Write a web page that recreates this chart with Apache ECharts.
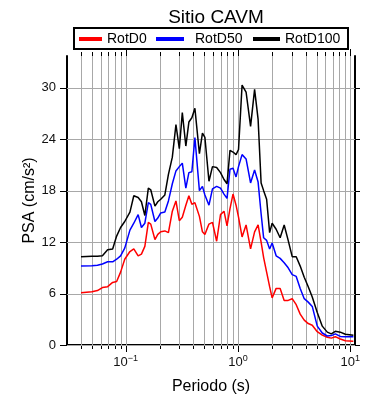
<!DOCTYPE html>
<html><head><meta charset="utf-8">
<script src="https://cdn.jsdelivr.net/npm/echarts@6/dist/echarts.min.js"></script>
<style>html,body{margin:0;padding:0;background:#fff}#c{width:390px;height:400px}</style>
</head><body><div id="c"></div>
<script>
const periods = [0.04,0.05,0.056,0.062,0.069,0.0765,0.083,0.09,0.098,0.109,
  0.118,0.129,0.138,0.148,0.159,0.167,0.182,0.193,0.205,0.223,
  0.24,0.26,0.28,0.3,0.319,0.343,0.365,0.388,0.413,0.453,
  0.482,0.507,0.551,0.592,0.645,0.698,0.75,0.798,0.848,0.902,
  0.96,1.01,1.086,1.179,1.293,1.404,1.509,1.605,1.69,1.797,
  1.911,2.012,2.184,2.371,2.575,2.795,3.035,3.296,3.577,3.885,
  4.217,4.579,5.075,5.623,6.232,6.767,7.347,8.142,9.024,10.64];
const rotD100 = [10.3,10.35,10.35,10.4,11.1,11.2,12.7,13.7,14.4,15.5,
  17.4,17.2,16.7,15.1,18.3,18.1,16.2,16.7,17.0,17.5,
  19.9,21.9,25.7,22.9,27.1,23.2,26.0,26.5,27.6,22.3,
  24.7,24.2,19.1,20.8,20.7,20.1,19.3,18.8,22.7,22.5,
  22.2,22.8,30.3,29.5,25.5,29.8,26.3,18.9,18.0,17.0,
  13.1,14.2,13.5,12.5,14.0,12.2,10.3,10.3,9.2,7.9,
  6.8,5.6,3.8,2.2,1.5,1.3,1.6,1.5,1.25,1.15];
const rotD50 = [9.2,9.25,9.3,9.45,9.7,9.7,10.0,10.4,11.3,13.4,
  14.2,15.2,13.7,14.2,16.6,16.4,14.4,14.8,15.4,15.5,
  16.8,18.8,20.3,20.8,21.2,18.3,20.1,20.2,24.2,18.0,
  18.5,17.5,16.3,18.2,18.5,18.3,17.6,17.1,20.5,20.6,
  19.6,20.8,22.2,21.7,18.9,20.4,19.0,15.3,12.5,12.2,
  11.2,11.9,10.4,10.1,9.6,9.0,8.2,8.0,6.6,5.4,
  5.0,4.5,2.2,1.4,1.05,1.1,1.3,1.0,0.97,0.97];
const rotD0 = [6.1,6.2,6.35,6.7,6.8,7.3,7.4,8.5,10.0,10.9,
  11.2,10.4,10.6,11.5,14.3,14.1,12.3,12.9,13.2,13.3,
  13.1,15.6,16.8,14.5,14.9,16.3,17.4,16.4,16.6,15.0,
  13.2,12.9,14.1,14.3,12.1,15.2,15.6,13.9,15.9,17.6,
  16.3,14.9,12.6,14.0,11.2,13.2,14.0,12.0,10.2,8.5,
  6.8,5.5,6.6,6.6,5.2,5.2,5.4,4.7,3.6,2.9,
  2.5,2.3,1.55,1.15,0.9,0.8,0.97,0.7,0.5,0.43];
const seriesNames = ['RotD0','RotD50','RotD100'];
const yTicks = [0,6,12,18,24,30];
const xMajorTicks = [0.1,1,10];
const xMinorTicks = [0.04,0.05,0.06,0.07,0.08,0.09,0.2,0.3,0.4,0.5,0.6,0.7,0.8,0.9,2,3,4,5,6,7,8,9];
const X_MIN = 0.03, X_MAX = 11, Y_MAX = 33.7;

const FONT = 'Liberation Sans, Arial, sans-serif';
const chart = echarts.init(document.getElementById('c'), null, {renderer:'canvas'});
const toPts = arr => periods.map((p,i)=>[p, arr[i]]);
const px = v => Math.round(v) + 0.5;

const vGridData = xMajorTicks.map(v=>[v,0,1]).concat(xMinorTicks.map(v=>[v,0,0]));
const hGridData = yTicks.map(v=>[X_MIN, v]);

const lineSeries = (name, arr, color) => ({
  name, type:'line', data: toPts(arr), showSymbol:false, symbol:'none',
  color, lineStyle:{color, width:1.5}, z:5, animation:false
});

chart.setOption({
  animation:false,
  title:{text:'Sitio CAVM', left:211, top:3, textAlign:'center',
    textStyle:{fontFamily:FONT, fontSize:19, fontWeight:'normal', color:'#000'}},
  graphic:[{type:'rect', shape:{x:74,y:28,width:274,height:21},
    style:{fill:'#fff', stroke:'#000', lineWidth:2}, z:0}],
  legend:[
    {data:['RotD0'], left:79, top:31, padding:0, icon:'rect', itemWidth:23, itemHeight:4,
      textStyle:{fontFamily:FONT, fontSize:14, color:'#000', lineHeight:16}},
    {data:['RotD50'], left:156, top:31, padding:0, icon:'rect', itemWidth:28, itemHeight:4,
      textStyle:{fontFamily:FONT, fontSize:14, color:'#000', lineHeight:16, padding:[0,0,0,6]}},
    {data:['RotD100'], left:253, top:31, padding:0, icon:'rect', itemWidth:27, itemHeight:4,
      textStyle:{fontFamily:FONT, fontSize:14, color:'#000', lineHeight:16}}
  ],
  grid:{left:67, right:35, top:56, bottom:54, containLabel:false},
  xAxis:[
    {type:'log', logBase:10, min:X_MIN, max:X_MAX, position:'bottom',
      name:'Periodo (s)', nameLocation:'middle', nameGap:34, nameMoveOverlap:false,
      nameTextStyle:{fontFamily:FONT, fontSize:16, color:'#000'},
      axisLine:{show:true, lineStyle:{color:'#000', width:2}},
      axisTick:{show:false}, splitLine:{show:false}, minorTick:{show:false},
      axisLabel:{margin:9, fontFamily:FONT, showMinLabel:false, showMaxLabel:false,
        formatter:function(v){
          const e = Math.log10(v), r = Math.round(e);
          if (Math.abs(e-r) > 1e-6) return '';
          return '{b|10}{s|' + (r<0?'\u2212':'') + Math.abs(r) + '}';
        },
        rich:{b:{fontFamily:FONT, fontSize:13, color:'#111'},
              s:{fontFamily:FONT, fontSize:9, color:'#111', padding:[0,0,8,0]}}}},
    {type:'log', logBase:10, min:X_MIN, max:X_MAX, position:'top',
      axisLine:{show:true, lineStyle:{color:'#000', width:2}},
      axisTick:{show:false}, splitLine:{show:false}, axisLabel:{show:false}}
  ],
  yAxis:[
    {type:'value', min:0, max:Y_MAX, interval:6, position:'left',
      name:'PSA (cm/s\u00B2)', nameLocation:'middle', nameGap:29, nameMoveOverlap:false,
      nameTextStyle:{fontFamily:FONT, fontSize:16, color:'#000'},
      axisLine:{show:true, lineStyle:{color:'#000', width:2}},
      axisTick:{show:false}, splitLine:{show:false},
      axisLabel:{margin:11, fontFamily:FONT, fontSize:13, color:'#111', showMaxLabel:false}},
    {type:'value', min:0, max:Y_MAX, interval:6, position:'right',
      axisLine:{show:true, lineStyle:{color:'#000', width:2}},
      axisTick:{show:false}, splitLine:{show:false}, axisLabel:{show:false}}
  ],
  series:[
    {type:'custom', coordinateSystem:'cartesian2d', silent:true, z:1, clip:false,
      data: vGridData,
      renderItem:function(params, api){
        const x = px(api.coord([api.value(0), 0])[0]);
        const cs = params.coordSys;
        const tl = api.value(2) ? 7 : 4;
        const yb = cs.y + cs.height, yt = cs.y;
        return {type:'group', children:[
          {type:'line', shape:{x1:x,y1:yt,x2:x,y2:yb}, style:{stroke:'#a8a8a8', lineWidth:1}},
          {type:'line', shape:{x1:x,y1:yb,x2:x,y2:yb+tl}, style:{stroke:'#000', lineWidth:1}},
          {type:'line', shape:{x1:x,y1:yt,x2:x,y2:yt-tl}, style:{stroke:'#000', lineWidth:1}}
        ]};
      }},
    {type:'custom', coordinateSystem:'cartesian2d', silent:true, z:1, clip:false,
      data: hGridData,
      renderItem:function(params, api){
        const y = px(api.coord([X_MIN, api.value(1)])[1]);
        const cs = params.coordSys;
        const xl = cs.x, xr = cs.x + cs.width;
        return {type:'group', children:[
          {type:'line', shape:{x1:xl,y1:y,x2:xr,y2:y}, style:{stroke:'#a8a8a8', lineWidth:1}},
          {type:'line', shape:{x1:xl-7,y1:y,x2:xl,y2:y}, style:{stroke:'#000', lineWidth:1}},
          {type:'line', shape:{x1:xr,y1:y,x2:xr+5,y2:y}, style:{stroke:'#000', lineWidth:1}}
        ]};
      }},
    lineSeries(seriesNames[0], rotD0, '#ff0000'),
    lineSeries(seriesNames[1], rotD50, '#0000ff'),
    lineSeries(seriesNames[2], rotD100, '#000000')
  ]
});
</script></body></html>
